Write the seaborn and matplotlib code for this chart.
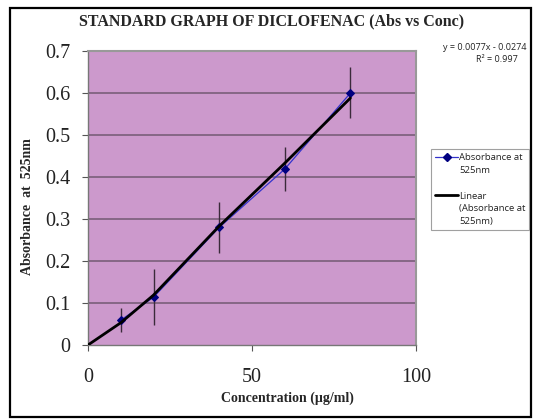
import numpy as np
import pandas as pd
import matplotlib
matplotlib.use("Agg")
import matplotlib.pyplot as plt
from matplotlib.patches import Rectangle
from matplotlib.lines import Line2D
import seaborn as sns

# data
conc = [10, 20, 40, 60, 80]
absorb = [0.059, 0.114, 0.28, 0.419, 0.60]
err_low = [0.027, 0.066, 0.06, 0.052, 0.06]
err_high = [0.029, 0.067, 0.06, 0.052, 0.061]
trend_x = [0, 10, 20, 40, 60, 80]
trend_y = [0.0, 0.053, 0.119, 0.283, 0.433, 0.588]
x_ticks = [0, 50, 100]
y_ticks = [0, 0.1, 0.2, 0.3, 0.4, 0.5, 0.6, 0.7]

sns.set_theme(style="white")
plt.rcParams['font.family'] = ['Liberation Serif', 'DejaVu Serif']

W, H = 534, 419
fig = plt.figure(figsize=(W / 100, H / 100), dpi=100)
ax = fig.add_axes([88 / W, (H - 345) / H, (416 - 88) / W, (345 - 51) / H])
ax.set_facecolor('#CC99CC')

df = pd.DataFrame({'conc': conc, 'abs': absorb})
dft = pd.DataFrame({'x': trend_x, 'y': trend_y})

for y in y_ticks[1:]:
    ax.axhline(y, color='#7a5f7a', lw=1.2, zorder=1)

ax.errorbar(conc, absorb, yerr=[err_low, err_high], fmt='none',
            ecolor='#3a2a3a', elinewidth=1.0, capsize=0, zorder=2)
sns.lineplot(data=df, x='conc', y='abs', ax=ax, color='#3333CC', lw=0.9,
             marker='D', markersize=4, markerfacecolor='#000080',
             markeredgecolor='#000080', zorder=3, legend=False)
sns.lineplot(data=dft, x='x', y='y', ax=ax, color='black', lw=2.0,
             zorder=4, legend=False)

ax.set_xlim(0, 100)
ax.set_ylim(0, 0.7)
ax.set_xticks(x_ticks)
ax.set_yticks(y_ticks)
ax.set_xticklabels([str(t) for t in x_ticks])
ax.set_yticklabels(['0'] + [f'{t:.1f}' for t in y_ticks[1:]])
ax.tick_params(axis='both', which='both', direction='out', length=4.5, width=0.8,
               color='#555555', labelsize=14.5, labelcolor='#222222', pad=8,
               left=True, bottom=True)
ax.tick_params(axis='x', pad=12)
for s in ['top', 'right']:
    ax.spines[s].set_color('#999999')
    ax.spines[s].set_linewidth(1.5)
for s in ['left', 'bottom']:
    ax.spines[s].set_color('#777777')
    ax.spines[s].set_linewidth(1.0)

ax.set_xlabel('')
ax.set_ylabel('')
fig.text(287 / W, 1 - 398 / H, 'Concentration (µg/ml)', ha='center', va='center',
         fontsize=10, fontweight='bold')
fig.text(28 / W, 1 - 207 / H, 'Absorbance  at  525nm', ha='center', va='center',
         rotation=90, fontsize=10, fontweight='bold')
fig.text(272 / W, 1 - 21 / H, 'STANDARD GRAPH OF DICLOFENAC (Abs vs Conc)',
         ha='center', va='center', fontsize=11.5, fontweight='bold')
fig.text(443 / W, 1 - 48 / H, 'y = 0.0077x - 0.0274', ha='left', va='center',
         fontsize=6.5, family=['Open Sans', 'DejaVu Sans'], color='#222222')
fig.text(497 / W, 1 - 59 / H, 'R² = 0.997', ha='center', va='center',
         fontsize=6.5, family=['Open Sans', 'DejaVu Sans'], color='#222222')

h1 = Line2D([], [], color='#3333CC', lw=0.9, marker='D', markersize=4,
            markerfacecolor='#000080', markeredgecolor='#000080')
h2 = Line2D([], [], color='black', lw=2.0)
blank = Line2D([], [], color='none')
handles = [h1, blank, blank, h2, blank, blank]
labels = ['Absorbance at', '525nm', ' ', 'Linear', '(Absorbance at', '525nm)']
leg = fig.legend(handles, labels, loc='upper left',
                 bbox_to_anchor=(431 / W, 1 - 149 / H),
                 bbox_transform=fig.transFigure, frameon=True, fancybox=False,
                 prop={'family': ['Open Sans', 'DejaVu Sans'], 'size': 6.8},
                 handlelength=2.4, handletextpad=0.1, borderpad=0.45,
                 labelspacing=0.4, borderaxespad=0)
leg.get_frame().set_edgecolor('#888888')
leg.get_frame().set_linewidth(0.8)
for t in leg.get_texts():
    t.set_color('#222222')

fig.patches.append(Rectangle((10 / W, 2 / H), (531 - 10) / W, (411 - 2) / H,
                             transform=fig.transFigure, fill=False,
                             edgecolor='black', linewidth=1.6))

fig.savefig('out.png', dpi=100)
